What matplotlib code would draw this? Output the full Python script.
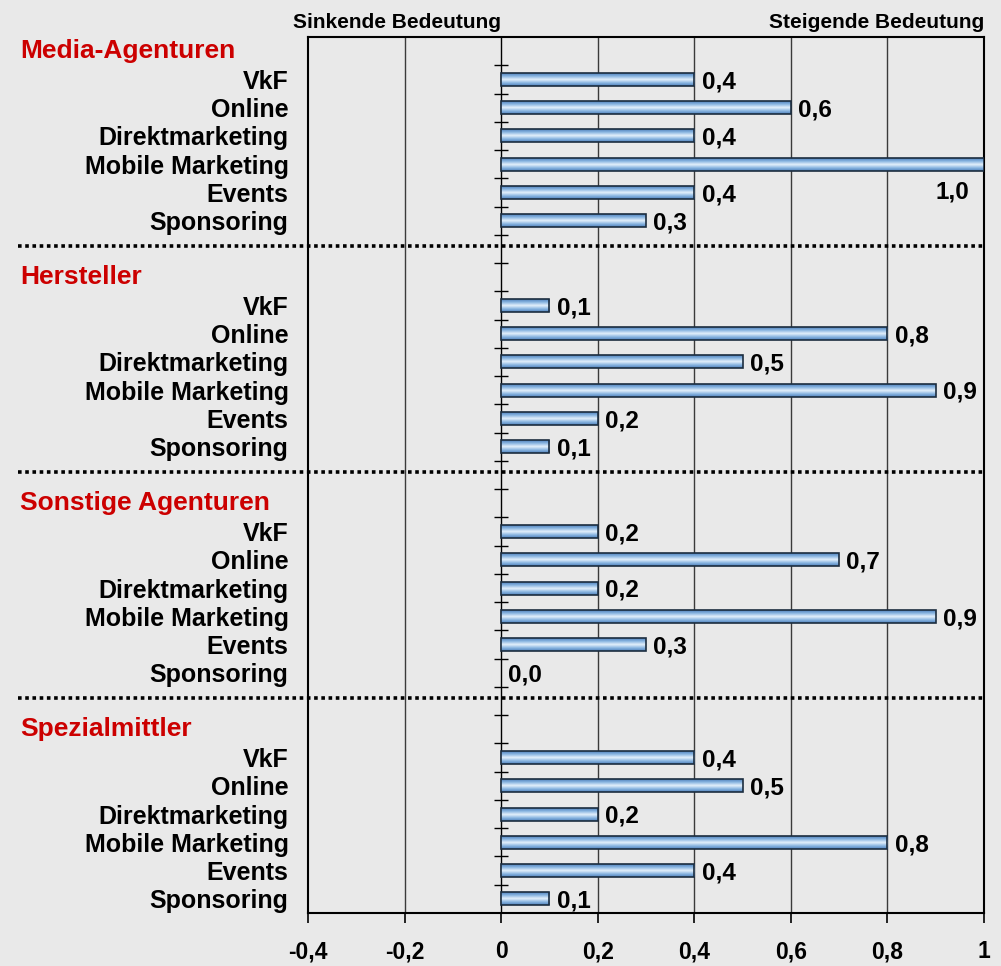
import numpy as np
import matplotlib.pyplot as plt
from matplotlib import font_manager
from matplotlib.colors import LinearSegmentedColormap
from matplotlib.transforms import blended_transform_factory

# Daten
gruppen = ['Media-Agenturen', 'Hersteller', 'Sonstige Agenturen', 'Spezialmittler']
kategorien = ['VkF', 'Online', 'Direktmarketing', 'Mobile Marketing', 'Events', 'Sponsoring']
werte_media = [0.4, 0.6, 0.4, 1.0, 0.4, 0.3]
werte_hersteller = [0.1, 0.8, 0.5, 0.9, 0.2, 0.1]
werte_sonstige = [0.2, 0.7, 0.2, 0.9, 0.3, 0.0]
werte_spezial = [0.4, 0.5, 0.2, 0.8, 0.4, 0.1]
alle_werte = [werte_media, werte_hersteller, werte_sonstige, werte_spezial]
x_ticks = [-0.4, -0.2, 0, 0.2, 0.4, 0.6, 0.8, 1.0]
x_ticklabels = ['-0,4', '-0,2', '0', '0,2', '0,4', '0,6', '0,8', '1']

hintergrund = '#e9e9e9'
rot = '#cc0000'

namen = {f.name for f in font_manager.fontManager.ttflist}
schrift = 'Liberation Sans' if 'Liberation Sans' in namen else 'DejaVu Sans'
plt.rcParams['font.family'] = [schrift, 'DejaVu Sans']
plt.rcParams['font.weight'] = 'bold'

fig = plt.figure(figsize=(10.01, 9.66), dpi=100, facecolor=hintergrund)
ax = fig.add_axes([0.3077, 0.0549, 0.6753, 0.9068])
ax.set_facecolor(hintergrund)

# Farbverlauf fuer die Balken
cmap = LinearSegmentedColormap.from_list('balken', ['#4f82bd', '#8db8e2', '#e4f0fb'])
profil = 1 - np.abs(np.linspace(-1, 1, 40))
verlauf = profil[:, None]

n_pro_gruppe = 8
hoehe = 0.46
ytick_pos = []
ytick_lab = []
trans_header = blended_transform_factory(fig.transFigure, ax.transData)

for g, (name, werte) in enumerate(zip(gruppen, alle_werte)):
    basis = g * n_pro_gruppe
    ax.text(0.02, basis, name, transform=trans_header, color=rot,
            fontsize=19, fontweight='bold', va='center', ha='left')
    for i, (kat, v) in enumerate(zip(kategorien, werte)):
        y = basis + 1 + i
        ytick_pos.append(y)
        ytick_lab.append(kat)
        if v > 0:
            ax.imshow(verlauf, extent=(0, v, y + hoehe / 2, y - hoehe / 2),
                      aspect='auto', cmap=cmap, vmin=0, vmax=1, zorder=3,
                      interpolation='bilinear')
            ax.barh(y, v, height=hoehe, left=0, facecolor='none',
                    edgecolor='#1c2d3f', linewidth=1.2, zorder=4)
        txt = f'{v:.1f}'.replace('.', ',')
        if v >= 1.0:
            ax.text(v - 0.03, y + 1, txt, ha='right', va='center',
                    fontsize=17.5, fontweight='bold', zorder=5)
        else:
            ax.text(v + 0.015, y + 0.08, txt, ha='left', va='center',
                    fontsize=17.5, fontweight='bold', zorder=5)
    if g < len(gruppen) - 1:
        ax.plot([-1.0, 1.0], [basis + 6.88, basis + 6.88], color='black',
                linewidth=2.6, linestyle=(0, (1, 1)), clip_on=False, zorder=6)

n_slots = len(gruppen) * n_pro_gruppe - 1
ax.set_xlim(-0.4, 1.0)
ax.set_ylim(n_slots - 0.5, -0.5)

# Gitter und Nulllinie
for xv in x_ticks[1:-1]:
    if xv == 0:
        ax.axvline(0, color='black', linewidth=1.0, zorder=2)
    else:
        ax.axvline(xv, color='#3a3a3a', linewidth=1.0, zorder=1)

# kleine Trennstriche an der Nulllinie
grenzen = np.arange(0.5, n_slots - 1, 1.0)
ax.hlines(grenzen, -0.015, 0.015, color='black', linewidth=1.0, zorder=2)

ax.set_yticks(ytick_pos)
ax.set_yticklabels(ytick_lab, fontsize=18, fontweight='bold')
ax.tick_params(axis='y', length=0, pad=14)
ax.set_xticks(x_ticks)
ax.set_xticklabels(x_ticklabels, fontsize=16.5, fontweight='bold')
ax.tick_params(axis='x', length=7, width=1.2, direction='out', pad=12.5)

for s in ax.spines.values():
    s.set_linewidth(1.5)
    s.set_color('black')

ax.text(0, 1.006, 'Sinkende Bedeutung', transform=blended_transform_factory(ax.transData, ax.transAxes),
        ha='right', va='bottom', fontsize=15, fontweight='bold')
ax.text(1.0, 1.006, 'Steigende Bedeutung', transform=ax.transAxes,
        ha='right', va='bottom', fontsize=15, fontweight='bold')

fig.savefig('out.png', dpi=100, facecolor=hintergrund)
